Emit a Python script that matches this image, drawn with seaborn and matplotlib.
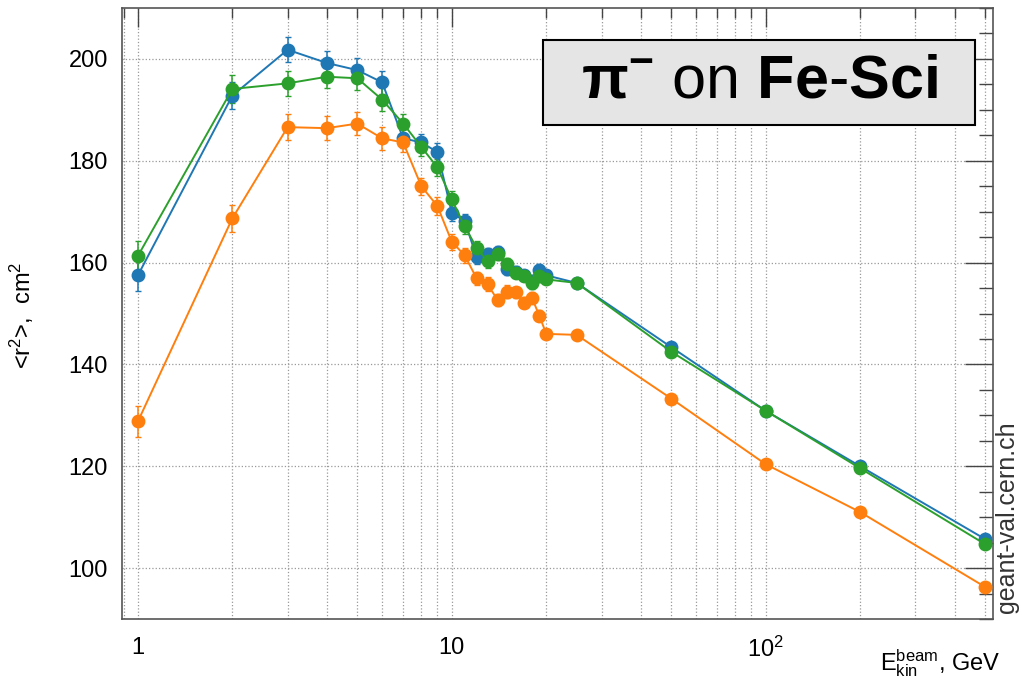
import numpy as np
import pandas as pd
import seaborn as sns
import matplotlib.pyplot as plt
from matplotlib.patches import Rectangle
from matplotlib.ticker import FixedLocator, FixedFormatter, LogLocator, NullFormatter, MultipleLocator

# beam kinetic energies, GeV
energy = [1, 2, 3, 4, 5, 6, 7, 8, 9, 10, 11, 12, 13, 14, 15, 16, 17, 18, 19, 20,
          25, 50, 100, 200, 500]

# <r^2>, cm^2 for three model versions
r2_blue = [157.5, 192.8, 201.8, 199.2, 197.8, 195.4, 184.4, 183.6, 181.7, 169.8,
           168.1, 161.1, 161.6, 162.0, 158.7, 158.2, 157.5, 156.4, 158.6, 157.5,
           156.0, 143.4, 130.9, 120.0, 105.7]
r2_orange = [128.8, 168.7, 186.6, 186.4, 187.3, 184.4, 183.6, 175.0, 171.1, 164.1,
             161.4, 156.9, 155.8, 152.6, 154.3, 154.2, 152.1, 153.1, 149.6, 146.0,
             145.8, 133.3, 120.4, 111.0, 96.3]
r2_green = [161.3, 194.1, 195.2, 196.5, 196.2, 192.0, 187.3, 182.7, 178.7, 172.4,
            167.1, 162.9, 160.3, 161.7, 159.7, 158.0, 157.4, 156.0, 157.3, 156.7,
            156.0, 142.5, 130.9, 119.6, 104.7]
r2_err = [3.0, 2.7, 2.5, 2.3, 2.3, 2.2, 1.8, 1.7, 1.7, 1.6, 1.5, 1.3, 1.3, 1.2, 1.2,
          1.1, 1.1, 1.1, 1.1, 1.0, 0.8, 0.6, 0.5, 0.5, 0.5]

series = ["blue", "orange", "green"]
colors = ["#1f77b4", "#ff7f0e", "#2ca02c"]

df = pd.concat([
    pd.DataFrame({"E": energy, "r2": v, "err": r2_err, "model": name})
    for name, v in zip(series, [r2_blue, r2_orange, r2_green])
])

sns.set_theme(style="white")
plt.rcParams['font.family'] = ['Liberation Sans', 'DejaVu Sans']
plt.rcParams['text.color'] = 'black'
plt.rcParams['mathtext.fontset'] = 'custom'
plt.rcParams['mathtext.rm'] = 'Liberation Sans'
plt.rcParams['mathtext.it'] = 'Liberation Sans:italic'
plt.rcParams['mathtext.bf'] = 'Liberation Sans:bold'

fig = plt.figure(figsize=(10.22, 6.83), dpi=100)
ax = fig.add_axes([122 / 1022, 1 - 619 / 683, (993 - 122) / 1022, (619 - 8) / 683])

for name, c in zip(series, colors):
    d = df[df.model == name]
    ax.errorbar(d.E, d.r2, yerr=d.err, fmt='none', ecolor=c, elinewidth=1.1,
                capsize=2, capthick=1, zorder=2)

sns.lineplot(data=df, x="E", y="r2", hue="model", palette=colors, hue_order=series,
             marker="o", markersize=10, markeredgewidth=0, linewidth=1.4,
             errorbar=None, legend=False, ax=ax, zorder=3)

ax.set_xscale('log')
ax.set_xlim(0.89, 530)
ax.set_ylim(90, 210)
ax.xaxis.set_major_locator(FixedLocator([1, 10, 100]))
ax.xaxis.set_major_formatter(FixedFormatter(['1', '10', '10$^{2}$']))
ax.xaxis.set_minor_locator(LogLocator(base=10, subs=np.arange(2, 10)))
ax.xaxis.set_minor_formatter(NullFormatter())
ax.yaxis.set_major_locator(MultipleLocator(20))
ax.yaxis.set_minor_locator(MultipleLocator(5))

ax.grid(True, which='major', axis='both', color='#999999', linestyle=':', linewidth=0.9)
ax.grid(True, which='minor', axis='x', color='#999999', linestyle=':', linewidth=0.9)

ax.tick_params(axis='both', which='both', direction='in', top=True, right=True,
               colors='#444444', labelcolor='black', labelsize=17, width=1)
ax.tick_params(axis='x', which='major', length=13.5, pad=13)
ax.tick_params(axis='x', which='minor', length=7)
ax.tick_params(axis='y', which='major', length=20, pad=10)
ax.tick_params(axis='y', which='minor', length=10)
for s in ax.spines.values():
    s.set_color('#555555')
    s.set_linewidth(1.2)

ax.set_xlabel("")
ax.set_ylabel("")

# title box
x0 = (543 - 122) / 871
x1 = (975 - 122) / 871
y0 = 1 - (125 - 8) / 611
y1 = 1 - (40 - 8) / 611
ax.add_patch(Rectangle((x0, y0), x1 - x0, y1 - y0, transform=ax.transAxes,
                       facecolor='#e5e5e5', edgecolor='black', linewidth=1.5, zorder=5))
ax.text((x0 + x1) / 2, (y0 + y1) / 2, r'$\mathbf{\pi^{-}}$ on $\mathbf{Fe}$-$\mathbf{Sci}$',
        transform=ax.transAxes, ha='center', va='center', fontsize=44, color='black',
        zorder=6)

fig.text(1000 / 1022, 1 - 663 / 683, r'E$_{\mathrm{kin}}^{\mathrm{beam}}$, GeV',
         ha='right', va='center', fontsize=17, color='black')
fig.text(22 / 1022, 1 - 315 / 683, r'<r$^{2}$>,  cm$^{2}$', rotation=90,
         ha='center', va='center', fontsize=17, color='black')
fig.text(1007 / 1022, 1 - 517 / 683, 'geant-val.cern.ch', rotation=90,
         ha='center', va='center', fontsize=18, color='#333333')

fig.savefig("out.png", dpi=100)
